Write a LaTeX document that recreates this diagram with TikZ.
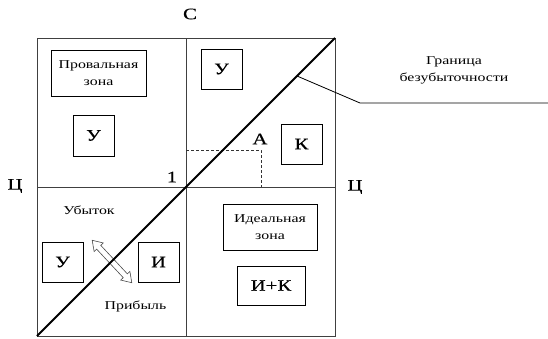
\documentclass[tikz,border=0pt]{standalone}
\usepackage{fontspec}
\setmainfont{Liberation Serif}
\newfontfamily\smallf[FakeStretch=1.32]{Liberation Serif}
\newfontfamily\bigf[FakeStretch=1.3,FakeBold=0.3]{Liberation Serif}
\usetikzlibrary{shapes.arrows}
\begin{document}
\begin{tikzpicture}[x=1pt,y=-1pt,
  frame/.style={draw=black!75, line width=0.9pt},
  box/.style={draw=black, line width=0.8pt, inner sep=0pt, align=center},
  small/.style={font=\smallf\fontsize{12}{17}\selectfont},
  big/.style={font=\bigf\fontsize{16}{18}\selectfont},
  lbl/.style={inner sep=0pt}
]
\useasboundingbox (0,0) rectangle (548,338);
% frame
\coordinate (tl) at (37,38);
\coordinate (br) at (335,336);
\coordinate (bl) at (37,336);
\coordinate (tr) at (335,38);
\coordinate (mt) at (186,38);
\coordinate (mb) at (186,336);
\coordinate (ml) at (37,187);
\coordinate (mr) at (335,187);
\draw[frame] (tl) rectangle (br);
\draw[frame] (mt) -- (mb);
\draw[frame] (ml) -- (mr);
% dashed
\coordinate (d1) at (186,150);
\coordinate (d2) at (261,150);
\coordinate (d3) at (261,187);
\draw[black!80, line width=0.8pt, dash pattern=on 3pt off 2pt] (d1) -- (d2) -- (d3);
% leader
\coordinate (lp) at (297,76);
\coordinate (lk) at (360,103);
\coordinate (le) at (548,103);
\draw[black, line width=0.8pt] (lp) -- (lk) -- (le);
% double arrow
\node[double arrow, draw=black!70, fill=white, line width=0.6pt, minimum height=58pt,
      inner sep=2.5pt, double arrow head extend=3.5pt, double arrow tip angle=67,
      rotate=-47] (arr) at (112,261.5) {};
% diagonal
\draw[black, line width=1.8pt] (bl) -- (tr);
% boxes
\node[box, small, minimum width=95, minimum height=46] (prov) at (98.5,73) {Провальная\\зона};
\node[box, big, minimum width=41, minimum height=41] (u1) at (93.5,135.5) {У};
\node[box, big, minimum width=41, minimum height=40] (u2) at (221.5,69) {У};
\node[box, big, minimum width=41, minimum height=40] (k) at (301.5,144) {К};
\node[box, big, minimum width=41, minimum height=40] (u3) at (62.5,262) {У};
\node[box, big, minimum width=41, minimum height=40] (i) at (158.5,262) {И};
\node[box, small, minimum width=94, minimum height=46] (ideal) at (270,227) {Идеальная\\зона};
\node[box, big, minimum width=68, minimum height=39] (ik) at (271,285.5) {И+К};
% labels
\node[lbl, big] (c) at (190,14) {С};
\node[lbl, big] (cl) at (15,186) {Ц};
\node[lbl, big] (cr) at (355,187) {Ц};
\node[lbl, big] (one) at (172,177) {1};
\node[lbl, big] (a) at (260,139) {А};
\node[lbl, small, align=center] (gr) at (454,70) {Граница\\безубыточности};
\node[lbl, small] (ub) at (89,210) {Убыток};
\node[lbl, small] (pr) at (135.5,306) {Прибыль};
\end{tikzpicture}
\end{document}
